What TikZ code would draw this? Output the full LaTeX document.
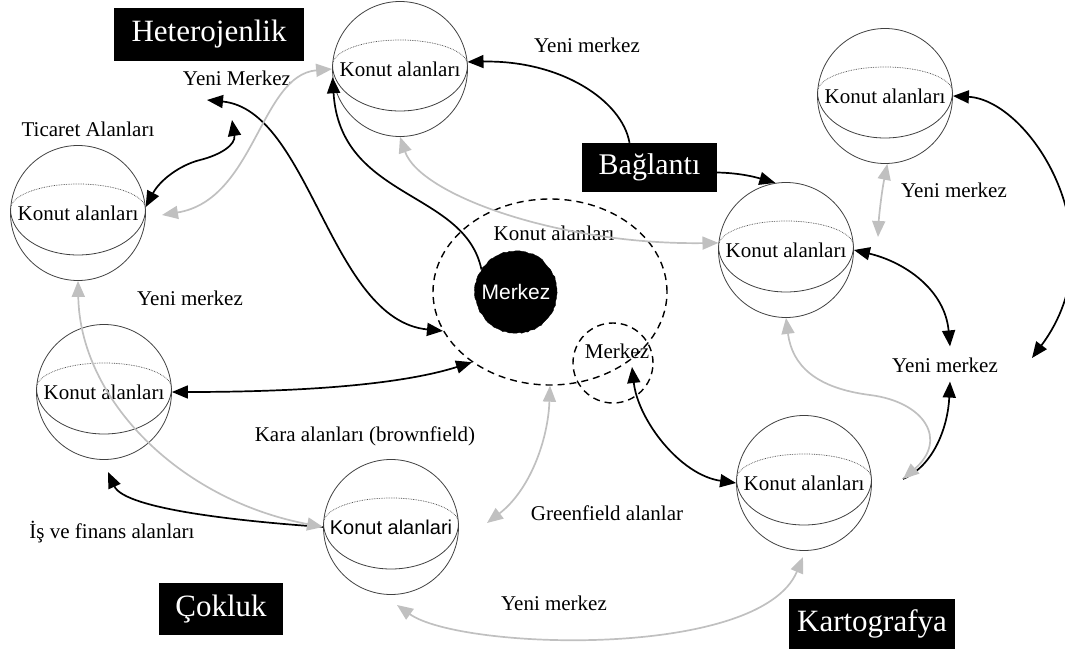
\documentclass[tikz,border=0pt]{standalone}
\usepackage{fontspec}
\setmainfont{Liberation Serif}
\newfontfamily\arialf{Liberation Sans}
\usetikzlibrary{arrows.meta,calc,shapes.geometric,decorations.pathmorphing}
\definecolor{arrgray}{RGB}{192,192,192}
\definecolor{sphline}{RGB}{64,64,64}
\tikzset{
 sph/.style={circle,draw=sphline,line width=0.8pt,minimum size=135pt,inner sep=0pt,font=\fontsize{21}{21}\selectfont},
 lbl/.style={font=\fontsize{21}{21}\selectfont,inner sep=1pt},
 blackbox/.style={fill=black,text=white,font=\fontsize{31}{31}\selectfont,inner sep=0pt},
 blk/.style={line width=1.7pt,black},
 gry/.style={line width=1.7pt,arrgray},
 arrowEnd/.style={-{Triangle[length=16pt,width=13pt]}},
 arrowStart/.style={{Triangle[length=16pt,width=13pt]}-},
 arrowBoth/.style={{Triangle[length=16pt,width=13pt]}-{Triangle[length=16pt,width=13pt]}},
 dashcirc/.style={draw=black,line width=1.4pt,dash pattern=on 7pt off 5pt,inner sep=0pt}
}
\newcommand\equator[1]{%
 \draw[sphline,line width=0.7pt,densely dotted] ($(#1.center)+(-67.5,-4)$) arc[start angle=180,end angle=0,x radius=67.5pt,y radius=25pt];
 \draw[sphline,line width=0.8pt] ($(#1.center)+(-67.5,-4)$) arc[start angle=180,end angle=360,x radius=67.5pt,y radius=46pt];}
\begin{document}
\begin{tikzpicture}[x=1pt,y=-1pt]
\useasboundingbox (0,0) rectangle (1065,652);
% spheres
\node[sph] (s1) at (400,69) {Konut alanları};
\node[sph] (s2) at (78,213) {Konut alanları};
\node[sph] (s3) at (885,96) {Konut alanları};
\node[sph] (s4) at (786,250) {Konut alanları};
\node[sph] (s5) at (104,392) {Konut alanları};
\node[sph,font=\arialf\fontsize{20}{20}\selectfont] (s6) at (391,527) {Konut alanlari};
\node[sph] (s7) at (804,483) {Konut alanları};
\equator{s1}\equator{s2}\equator{s3}\equator{s4}\equator{s5}\equator{s6}\equator{s7}
% black boxes
\node[blackbox,minimum width=190pt,minimum height=53pt] (het) at (209,34.5) {Heterojenlik};
\node[blackbox,minimum width=135pt,minimum height=49pt,font=\fontsize{30}{30}\selectfont] (bag) at (649.5,167.5) {Bağlantı};
\node[blackbox,minimum width=124pt,minimum height=52pt] (cok) at (221,609) {Çokluk};
\node[blackbox,minimum width=166pt,minimum height=50pt] (kar) at (872,624) {Kartografya};
% labels
\node[lbl] (ymTop) at (237,78) {Yeni Merkez};
\node[lbl] (tic) at (88,129) {Ticaret Alanları};
\node[lbl] (yn1) at (587,45) {Yeni merkez};
\node[lbl] (yn2) at (954,190) {Yeni merkez};
\node[lbl] (ka) at (554,233) {Konut alanları};
\node[lbl] (yn3) at (190,298) {Yeni merkez};
\node[lbl] (ynR) at (945,365) {Yeni merkez};
\node[lbl] (kara) at (365,436) {Kara alanları (brownfield)};
\node[lbl] (green) at (607,513) {Greenfield alanlar};
\node[lbl] (is) at (112,532) {İş ve finans alanları};
\node[lbl] (yn4) at (554,603) {Yeni merkez};
% centres
\node[dashcirc,ellipse,minimum width=234pt,minimum height=186pt] (dc) at (550,292) {};
\node[dashcirc,circle,minimum size=80pt] (sc) at (613,363) {};
\node[lbl] (smk) at (617,351) {Merkez};
% free ends
\coordinate (ymL) at (207,100);
\coordinate (ymB) at (232,120);
\coordinate (ynRr) at (1032,358);
\coordinate (scIn) at (632,367);
\coordinate (s2gr) at (162,215);
\coordinate (s4gr) at (878,237);
\coordinate (s5b) at (108,472);
\coordinate (s6r) at (487,523);
\coordinate (s6b) at (397,605);
\coordinate (s7r) at (903,479);
\coordinate (s7b) at (803,557);
% black connectors
\draw[blk,arrowEnd] ([xshift=-20pt]bag.north) .. controls (622,100) and (560,60) .. (s1.6);
\draw[blk,arrowEnd] ([yshift=-5pt]bag.east) .. controls (740,173) and (755,177) .. (s4.99);
\draw[blk,arrowBoth] (ymL) .. controls (310,110) and (330,320) .. (dc.200);
\draw[blk,arrowBoth] (s2.5) .. controls (160,180) and (180,165) .. (200,160) .. controls (220,155) and (236,145) .. (ymB);
\draw[blk,arrowBoth] (s5.east) .. controls (300,392) and (400,385) .. (dc.222);
\draw[blk,arrowEnd] (s6.west) .. controls (250,522) and (125,510) .. (s5b);
\draw[blk,arrowBoth] (scIn) .. controls (638,420) and (680,475) .. (s7.west);
\draw[blk,arrowBoth] (s4.east) .. controls (905,262) and (945,290) .. ([xshift=5pt,yshift=10pt]ynR.north);
\draw[blk,arrowStart] ([xshift=5pt,yshift=-8pt]ynR.south) .. controls (948,425) and (935,465) .. (s7r);
\draw[blk,arrowBoth] (s3.east) .. controls (1030,100) and (1120,240) .. (ynRr);
% gray connectors
\draw[gry,arrowBoth] (s1.west) .. controls (260,75) and (255,200) .. (s2gr);
\draw[gry,arrowBoth] (s1.south) .. controls (420,195) and (560,245) .. (s4.174);
\draw[gry,arrowBoth] (s3.272) .. controls (882,190) and (879,215) .. (s4gr);
\draw[gry,arrowBoth] (s4.south) .. controls (792,365) and (815,388) .. (870,395) .. controls (925,402) and (948,440) .. (s7r);
\draw[gry,arrowBoth] (s2.south) .. controls (80,400) and (180,500) .. (s6.west);
\draw[gry,arrowBoth] (dc.south) .. controls (548,440) and (530,490) .. (s6r);
\draw[gry,arrowBoth] (s6b) .. controls (460,650) and (760,660) .. (s7b);
% blob
\node[circle,fill=black,draw=black,minimum size=82pt,inner sep=0pt,text=white,font=\arialf\fontsize{21}{21}\selectfont,decorate,decoration={random steps,segment length=3pt,amplitude=0.7pt}] (mb) at (516,292) {Merkez};
\draw[blk,arrowEnd] (mb.147) .. controls (465,190) and (340,200) .. (s1.187);
\end{tikzpicture}
\end{document}
